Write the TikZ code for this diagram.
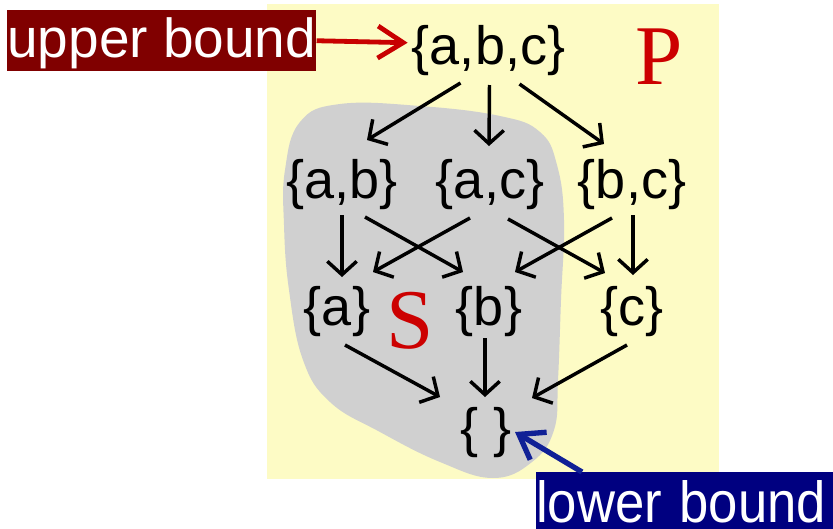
\documentclass[tikz,border=0pt]{standalone}
\usepackage{fontspec}
\setmainfont{Liberation Sans}
\newfontfamily\myserif{Liberation Serif}
\usetikzlibrary{arrows.meta}
\definecolor{bgyellow}{RGB}{253,251,197}
\definecolor{blobgray}{RGB}{208,208,208}
\definecolor{ubred}{RGB}{128,0,0}
\definecolor{lbnavy}{RGB}{0,0,128}
\definecolor{arrred}{RGB}{200,0,0}
\definecolor{arrblue}{RGB}{16,32,150}
\definecolor{lblred}{RGB}{204,0,0}
\begin{document}
\begin{tikzpicture}[x=0.75pt,y=-0.75pt,
  setnode/.style={font=\fontsize{40.5pt}{48pt}\selectfont, inner sep=0pt, text height=29.6pt, text depth=8.5pt},
  edge/.style={line width=2.6pt, -{Straight Barb[length=10pt,width=22pt]}},
  biglabel/.style={font=\myserif\fontsize{63.75pt}{70pt}\selectfont, text=lblred, inner sep=0pt},
  ubbox/.style={fill=ubred, text=white, font=\fontsize{41.25pt}{48pt}\selectfont, inner sep=0pt, text height=35.6pt, text depth=10.1pt, minimum width=231.75pt},
  lbbox/.style={fill=lbnavy, text=white, font=\fontsize{39.5pt}{48pt}\selectfont, inner sep=0pt, text height=37.5pt, text depth=5.25pt, text width=222.75pt, align=left},
  redarrow/.style={draw=arrred, line width=3.6pt, -{Straight Barb[length=19pt,width=24pt]}},
  bluearrow/.style={draw=arrblue, line width=4pt, -{Straight Barb[length=17pt,width=24pt]}}]
\useasboundingbox (0,0) rectangle (833,529);
\fill[bgyellow] (267,4) rectangle (719,479);
\fill[blobgray] plot[smooth cycle, tension=0.7] coordinates {
  (285,170) (300,122) (340,104) (420,106) (500,116) (540,132) (557,165)
  (564,220) (561,300) (558,380) (554,430) (532,462) (493,478) (440,462)
  (380,432) (330,402) (303,360) (289,290) (284,225)};
% nodes
\node[setnode] (abc) at (488.5,50) {\{a,b,c\}};
\node[setnode] (ab) at (342,184) {\{a,b\}};
\node[setnode] (ac) at (490,184) {\{a,c\}};
\node[setnode] (bc) at (632,184) {\{b,c\}};
\node[setnode] (a) at (337,311) {\{a\}};
\node[setnode] (b) at (489,311) {\{b\}};
\node[setnode] (c) at (632,311) {\{c\}};
\node[setnode] (e) at (486,432) {\{ \}};
\node[biglabel, anchor=base] (S) at (410.5,348) {S};
\node[biglabel, anchor=base] (P) at (659.5,84) {P};
\node[ubbox, anchor=north west] (ub) at (7,10) {upper bound};
\node[lbbox, anchor=north west] (lb) at (536,472) {\scalebox{1}[1.1]{lower bound}};
% edges
\draw[edge] ([shift={(-28,33)}]abc.center) -- ([shift={(25,-44)}]ab.center);
\draw[edge] ([shift={(1,35)}]abc.center) -- ([shift={(-1,-38)}]ac.center);
\draw[edge] ([shift={(31,34)}]abc.center) -- ([shift={(-28,-40)}]bc.center);
\draw[edge] ([shift={(0,31)}]ab.center) -- ([shift={(5,-34)}]a.center);
\draw[edge] ([shift={(23,33)}]ab.center) -- ([shift={(-26,-39)}]b.center);
\draw[edge] ([shift={(-20,34)}]ac.center) -- ([shift={(36,-39)}]a.center);
\draw[edge] ([shift={(18,35)}]ac.center) -- ([shift={(-27,-38)}]c.center);
\draw[edge] ([shift={(-20,34)}]bc.center) -- ([shift={(26,-39)}]b.center);
\draw[edge] ([shift={(1,31)}]bc.center) -- ([shift={(1,-36)}]c.center);
\draw[edge] ([shift={(8,34)}]a.center) -- ([shift={(-46,-35)}]e.center);
\draw[edge] ([shift={(-4,27)}]b.center) -- ([shift={(-1,-35)}]e.center);
\draw[edge] ([shift={(-5,34)}]c.center) -- ([shift={(46,-34)}]e.center);
\draw[redarrow] (ub.east) -- ([shift={(-4,2)}]ub.east -| abc.west);
\draw[bluearrow] ([shift={(46,0)}]lb.north west) -- ([shift={(29,0)}]e.center);
\end{tikzpicture}
\end{document}
